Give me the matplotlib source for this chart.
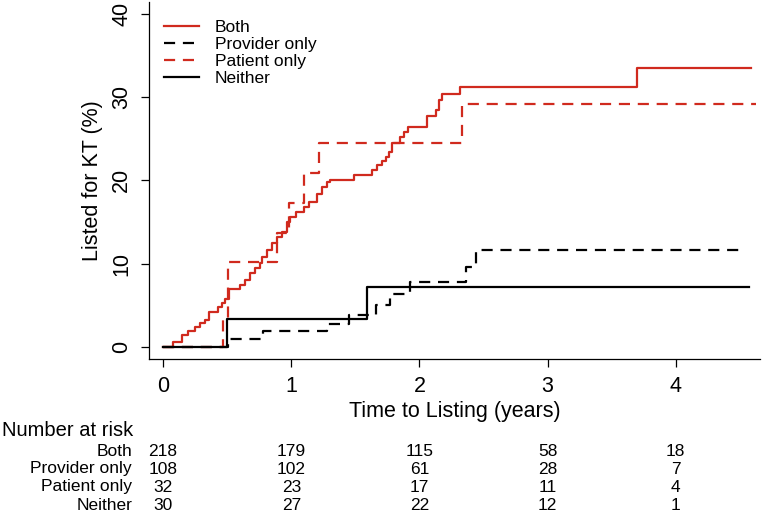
import matplotlib
matplotlib.use("Agg")
import matplotlib.pyplot as plt
import matplotlib.transforms as mtransforms

plt.rcParams['font.family'] = ['Liberation Sans', 'DejaVu Sans']

# step curves: (time in years, cumulative % listed)
both_t = [0, 0.08, 0.146, 0.198, 0.25, 0.29, 0.33, 0.36, 0.43, 0.46, 0.48, 0.515,
          0.60, 0.64, 0.68, 0.72, 0.76, 0.77, 0.81, 0.85, 0.89, 0.93, 0.97, 0.99,
          1.04, 1.10, 1.14, 1.20, 1.24, 1.28, 1.30, 1.49, 1.63, 1.67, 1.71, 1.74,
          1.76, 1.79, 1.85, 1.88, 1.91, 2.06, 2.13, 2.15, 2.18, 2.32, 3.70, 4.59]
both_v = [0, 0.6, 1.4, 1.9, 2.4, 2.9, 3.2, 4.2, 4.8, 5.3, 5.8, 7.0,
          7.4, 8.0, 8.9, 9.5, 10.1, 10.8, 11.6, 12.5, 13.2, 13.8, 15.0, 15.6,
          16.2, 16.8, 17.4, 18.4, 19.2, 19.8, 20.1, 20.6, 21.2, 21.8, 22.3, 22.8,
          23.4, 24.5, 25.2, 25.8, 26.4, 27.7, 28.4, 29.7, 30.4, 31.2, 33.5, 33.5]

provider_t = [0, 0.51, 0.78, 1.28, 1.45, 1.66, 1.77, 1.93, 2.36, 2.44, 4.49]
provider_v = [0, 1.0, 1.9, 2.8, 3.8, 5.0, 6.4, 7.8, 9.6, 11.6, 11.6]

patient_t = [0, 0.47, 0.51, 0.89, 0.98, 1.10, 1.22, 2.33, 4.63]
patient_v = [0, 3.3, 10.2, 13.7, 17.3, 20.9, 24.5, 29.2, 29.2]

neither_t = [0, 0.50, 1.59, 4.57]
neither_v = [0, 3.3, 7.2, 7.2]

# number at risk table
risk_times = [0, 1, 2, 3, 4]
risk_groups = ["Both", "Provider only", "Patient only", "Neither"]
risk_both = [218, 179, 115, 58, 18]
risk_provider = [108, 102, 61, 28, 7]
risk_patient = [32, 23, 17, 11, 4]
risk_neither = [30, 27, 22, 12, 1]

red = "#d02a1e"

fig = plt.figure(figsize=(7.68, 5.15), dpi=100)
ax = fig.add_axes([0.194, 0.303, 0.796, 0.693])

lw = 1.6
ax.step(both_t, both_v, where="post", color=red, lw=lw, label="Both")
ax.step(provider_t, provider_v, where="post", color="black", lw=lw,
        dashes=(5, 3.5), label="Provider only")
ax.step(patient_t, patient_v, where="post", color=red, lw=lw,
        dashes=(5, 3.5), label="Patient only")
ax.step(neither_t, neither_v, where="post", color="black", lw=lw, label="Neither")

ax.set_xlim(-0.11, 4.66)
ax.set_ylim(-1.44, 41.4)
ax.set_xticks([0, 1, 2, 3, 4])
ax.set_yticks([0, 10, 20, 30, 40])
ax.tick_params(labelsize=15.5, length=6, width=0.9, pad=6)
for lab in ax.get_yticklabels():
    lab.set_rotation(90)
    lab.set_va("center")
ax.spines["top"].set_visible(False)
ax.spines["right"].set_visible(False)
ax.spines["left"].set_linewidth(0.9)
ax.spines["bottom"].set_linewidth(0.9)
ax.set_xlabel("Time to Listing (years)", fontsize=15.5, labelpad=3)
ax.set_ylabel("Listed for KT (%)", fontsize=15.5, labelpad=6)

ax.legend(loc="upper left", frameon=False, fontsize=12.5, handlelength=2.0,
          handletextpad=0.9, labelspacing=0.12, borderaxespad=0.3,
          bbox_to_anchor=(0.005, 0.985))

# risk table below the axes
trans = mtransforms.blended_transform_factory(ax.transData, fig.transFigure)
fig.text(0.003, 1 - 430 / 515, "Number at risk", fontsize=14.5, va="center", ha="left")
rows = [risk_both, risk_provider, risk_patient, risk_neither]
row_y = [451, 469, 487, 505]
for name, vals, yp in zip(risk_groups, rows, row_y):
    y = 1 - yp / 515
    fig.text(132 / 768, y, name, fontsize=12.5, ha="right", va="center")
    for t, n in zip(risk_times, vals):
        ax.text(t, y, str(n), transform=trans, fontsize=12.5, ha="center",
                va="center", clip_on=False)

fig.savefig("out.png", dpi=100)
